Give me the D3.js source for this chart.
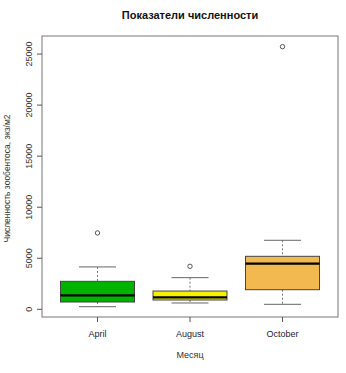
<!DOCTYPE html>
<html>
<head>
<meta charset="utf-8">
<script src="https://cdn.jsdelivr.net/npm/d3@7"></script>
<style>
  body { margin: 0; background: #fff; }
  text { font-family: "Liberation Sans", Arial, sans-serif; }
</style>
</head>
<body>
<svg id="chart"></svg>
<script>
// values
let months = ['April', 'August', 'October']
let lowWhisker = [255, 620, 490]
let q1 = [715, 910, 1920]
let medians = [1370, 1175, 4470]
let q3 = [2740, 1790, 5190]
let highWhisker = [4150, 3100, 6760]
let outliers = [[7480], [4210], [25720]]
let fills = ['#00b200', '#f3f000', '#f1b94f']
let yTicks = [0, 5000, 10000, 15000, 20000, 25000]

let width = 346,
    height = 373,
    margin = {left: 42, right: 8, top: 36, bottom: 56}

let $svg = d3.select('#chart')
    .attr('width', width)
    .attr('height', height)

let x = d3.scalePoint()
    .domain(months)
    .range([margin.left, width - margin.right])
    .padding(0.6)

let y = d3.scaleLinear()
    .domain([-783, 26768])
    .range([height - margin.bottom + 0.3, margin.top])

let boxW = x.step() * 0.8

// frame
$svg.append('rect')
    .attr('x', margin.left)
    .attr('y', margin.top)
    .attr('width', width - margin.left - margin.right)
    .attr('height', height - margin.top - margin.bottom)
    .attr('fill', 'none')
    .attr('stroke', '#777')

// y axis ticks + rotated labels
let yAxis = $svg.append('g')
yTicks.forEach(t => {
    let yy = y(t)
    yAxis.append('line')
        .attr('x1', margin.left - 5).attr('x2', margin.left)
        .attr('y1', yy).attr('y2', yy)
        .attr('stroke', '#555')
    yAxis.append('text')
        .attr('transform', `translate(32,${yy}) rotate(-90)`)
        .attr('text-anchor', 'middle')
        .attr('font-size', 9)
        .attr('fill', '#333')
        .text(t)
})

// x axis ticks + labels
months.forEach(m => {
    let xx = x(m)
    $svg.append('line')
        .attr('x1', xx).attr('x2', xx)
        .attr('y1', height - margin.bottom).attr('y2', height - margin.bottom + 5)
        .attr('stroke', '#555')
    $svg.append('text')
        .attr('x', xx).attr('y', 337)
        .attr('text-anchor', 'middle')
        .attr('font-size', 9)
        .attr('fill', '#223')
        .text(m)
})

// boxes
months.forEach((m, i) => {
    let cx = x(m)
    let g = $svg.append('g')
    // dashed whiskers
    g.append('line')
        .attr('x1', cx).attr('x2', cx)
        .attr('y1', y(highWhisker[i])).attr('y2', y(q3[i]))
        .attr('stroke', '#777').attr('stroke-dasharray', '2,2')
    g.append('line')
        .attr('x1', cx).attr('x2', cx)
        .attr('y1', y(q1[i])).attr('y2', y(lowWhisker[i]))
        .attr('stroke', '#777').attr('stroke-dasharray', '2,2')
    // caps
    ;[highWhisker[i], lowWhisker[i]].forEach(v => {
        g.append('line')
            .attr('x1', cx - boxW / 4).attr('x2', cx + boxW / 4)
            .attr('y1', y(v)).attr('y2', y(v))
            .attr('stroke', '#666')
    })
    g.append('rect')
        .attr('x', cx - boxW / 2)
        .attr('y', y(q3[i]))
        .attr('width', boxW)
        .attr('height', y(q1[i]) - y(q3[i]))
        .attr('fill', fills[i])
        .attr('stroke', '#444')
    g.append('line')
        .attr('x1', cx - boxW / 2).attr('x2', cx + boxW / 2)
        .attr('y1', y(medians[i])).attr('y2', y(medians[i]))
        .attr('stroke', '#000').attr('stroke-width', 2.2)
    outliers[i].forEach(v => {
        g.append('circle')
            .attr('cx', cx).attr('cy', y(v)).attr('r', 2.2)
            .attr('fill', 'none').attr('stroke', '#555')
    })
})

// titles
$svg.append('text')
    .attr('x', (margin.left + width - margin.right) / 2).attr('y', 19)
    .attr('text-anchor', 'middle')
    .attr('font-size', 11).attr('font-weight', 'bold')
    .attr('fill', '#111')
    .text('Показатели численности')

$svg.append('text')
    .attr('x', (margin.left + width - margin.right) / 2).attr('y', 358)
    .attr('text-anchor', 'middle')
    .attr('font-size', 9)
    .attr('fill', '#333')
    .text('Месяц')

$svg.append('text')
    .attr('transform', `translate(10,${(margin.top + height - margin.bottom) / 2 + 2}) rotate(-90)`)
    .attr('text-anchor', 'middle')
    .attr('font-size', 8.5)
    .attr('fill', '#333')
    .text('Численность зообентоса, экз/м2')
</script>
</body>
</html>
